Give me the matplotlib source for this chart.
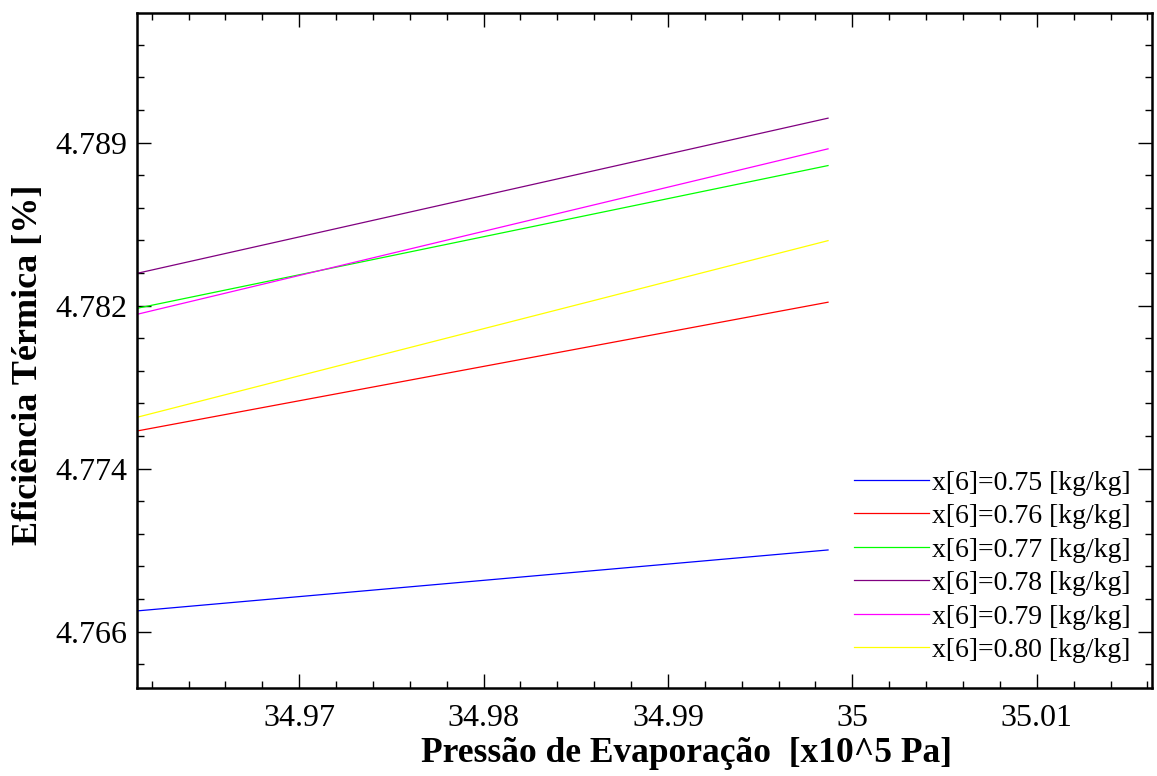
import matplotlib
matplotlib.use("Agg")
import matplotlib.pyplot as plt
from matplotlib.ticker import MultipleLocator, FixedLocator
import numpy as np

# pressure range covered by each curve [x10^5 Pa]
pressure = [34.96123, 34.99868]

# thermal efficiency [%] at start / end of the pressure range
quality = ["0.75", "0.76", "0.77", "0.78", "0.79", "0.80"]
eff_075 = [4.76737, 4.77021]
eff_076 = [4.77576, 4.78176]
eff_077 = [4.78148, 4.78813]
eff_078 = [4.78311, 4.79034]
eff_079 = [4.78120, 4.78891]
eff_080 = [4.77640, 4.78463]
colors = ["#0000ff", "#ff0000", "#00ff00", "#800080", "#ff00ff", "#ffff00"]

ytick_vals = [4.7664, 4.7740, 4.7816, 4.7892]
ytick_labels = ["4.766", "4.774", "4.782", "4.789"]
xtick_vals = [34.97, 34.98, 34.99, 35.0, 35.01]
xtick_labels = ["34.97", "34.98", "34.99", "35", "35.01"]

plt.rcParams['font.family'] = ['Liberation Serif', 'DejaVu Serif']

fig = plt.figure(figsize=(11.57, 7.76), dpi=100)
ax = fig.add_axes([0.1188, 0.1130, 0.8769, 0.8699])

series = [eff_075, eff_076, eff_077, eff_078, eff_079, eff_080]
for q, eff, c in zip(quality, series, colors):
    ax.plot(pressure, eff, color=c, lw=0.9, label=f"x[6]={q} [kg/kg]")

ax.set_xlim(34.96123, 35.01625)
ax.set_ylim(4.76376, 4.79523)

ax.set_xticks(xtick_vals, xtick_labels)
ax.xaxis.set_minor_locator(MultipleLocator(0.002))
ax.set_yticks(ytick_vals, ytick_labels)
ax.yaxis.set_minor_locator(FixedLocator(np.arange(ytick_vals[0] - 0.0076, ytick_vals[-1] + 0.0076, 0.00152)))

ax.tick_params(which='both', direction='in', top=True, right=True, labelsize=23, width=1)
ax.tick_params(which='major', length=10)
ax.tick_params(which='minor', length=5)
ax.tick_params(axis='x', which='major', pad=11)
ax.tick_params(axis='y', which='major', pad=7)
for s in ax.spines.values():
    s.set_linewidth(1.8)

ax.set_xlabel("Pressão de Evaporação  [x10^5 Pa]", fontsize=25.5, fontweight='bold')
ax.set_ylabel("Eficiência Térmica [%]", fontsize=26, fontweight='bold')
ax.xaxis.set_label_coords(0.5416, -0.072)
ax.yaxis.set_label_coords(-0.091, 0.479)

ax.legend(loc='lower right', bbox_to_anchor=(0.99, 0.021), frameon=False, fontsize=20,
          handlelength=2.7, handletextpad=0.1, labelspacing=0.29, borderaxespad=0)

fig.savefig("out.png", dpi=100)
